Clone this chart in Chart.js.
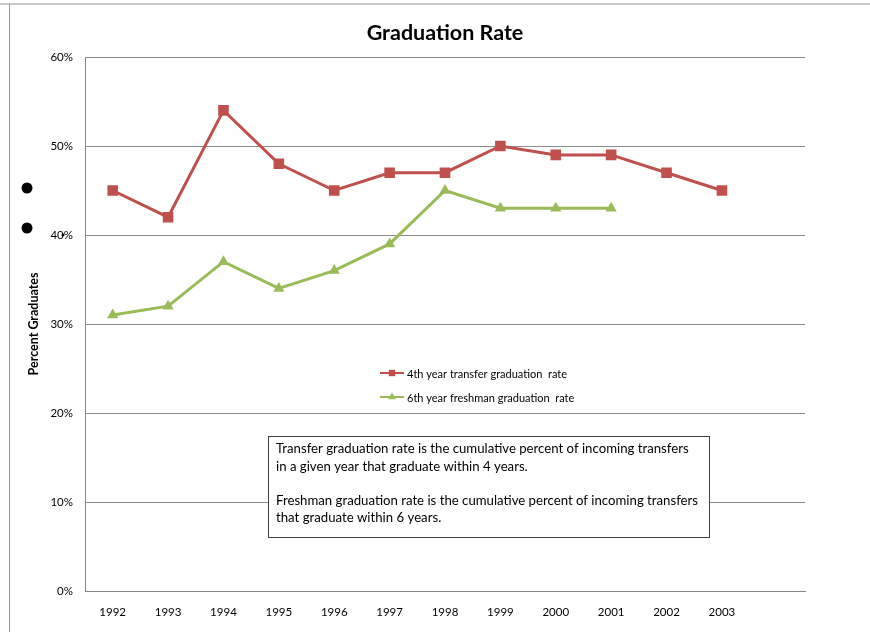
<!DOCTYPE html>
<html>
<head>
<meta charset="utf-8">
<title>Graduation Rate</title>
<script src="https://cdn.jsdelivr.net/npm/chart.js@4/dist/chart.umd.min.js"></script>
<style>
    html, body { margin: 0; padding: 0; background: #fff; }
    #wrap { width: 870px; height: 632px; }
</style>
</head>
<body>
<div id="wrap"><canvas id="gradChart" width="870" height="632"></canvas></div>
<script>
// Cohort years (last slot left empty, as in the original workbook)
const years = ['1992', '1993', '1994', '1995', '1996', '1997', '1998', '1999', '2000', '2001', '2002', '2003', ''];
// Percent graduating
const transferRate = [45, 42, 54, 48, 45, 47, 47, 50, 49, 49, 47, 45];
const freshmanRate = [31, 32, 37, 34, 36, 39, 45, 43, 43, 43, null, null];
const seriesNames = ['4th year transfer graduation  rate', '6th year freshman graduation  rate'];
const noteLines = [
    'Transfer graduation rate is the cumulative percent of incoming transfers',
    'in a given year that graduate within 4 years.',
    '',
    'Freshman graduation rate is the cumulative percent of incoming transfers',
    'that graduate within 6 years.'
];

const FONT = 'Lato, "Open Sans", sans-serif';
const RED = '#c0504d';
const GREEN = '#9bbb59';

// Page frame, title, in-plot legend, note box and stray bullets
const decorations = {
    id: 'decorations',
    beforeDraw(chart) {
        const ctx = chart.ctx;
        ctx.save();
        ctx.fillStyle = '#fff';
        ctx.fillRect(0, 0, chart.width, chart.height);
        ctx.strokeStyle = '#c8c8c8';
        ctx.lineWidth = 2;
        ctx.beginPath();
        ctx.moveTo(0, 4); ctx.lineTo(chart.width, 4);
        ctx.stroke();
        ctx.strokeStyle = '#9a9a9a';
        ctx.lineWidth = 1;
        ctx.beginPath();
        ctx.moveTo(9.5, 4); ctx.lineTo(9.5, chart.height);
        ctx.stroke();
        ctx.restore();
    },
    afterDraw(chart) {
        const ctx = chart.ctx;
        const area = chart.chartArea;
        ctx.save();

        // title
        ctx.fillStyle = '#000';
        ctx.font = 'bold 21.5px ' + FONT;
        ctx.textAlign = 'center';
        ctx.textBaseline = 'middle';
        ctx.fillText('Graduation Rate', (area.left + area.right) / 2, 33);

        // legend
        ctx.font = '11px ' + FONT;
        ctx.textAlign = 'left';
        chart.data.datasets.forEach((ds, i) => {
            const y = 373 + i * 24;
            ctx.strokeStyle = ds.borderColor;
            ctx.lineWidth = 2;
            ctx.beginPath();
            ctx.moveTo(380, y); ctx.lineTo(404, y);
            ctx.stroke();
            ctx.fillStyle = ds.backgroundColor;
            Chart.helpers.drawPoint(ctx, { pointStyle: ds.pointStyle, radius: 4.5, borderWidth: 0 }, 392, y);
            ctx.fillStyle = '#000';
            ctx.fillText(ds.label, 407, y + 1);
        });

        // note box
        const bx = 268.5, by = 436.5, bw = 441, bh = 101;
        ctx.fillStyle = '#fff';
        ctx.fillRect(bx, by, bw, bh);
        ctx.strokeStyle = '#404040';
        ctx.lineWidth = 1;
        ctx.strokeRect(bx, by, bw, bh);
        ctx.fillStyle = '#000';
        ctx.font = '13.2px ' + FONT;
        ctx.textBaseline = 'middle';
        noteLines.forEach((line, i) => {
            ctx.fillText(line, 276, 449 + i * 17.3);
        });

        // bullets left of the axis
        ctx.fillStyle = '#000';
        [188, 228].forEach(y => {
            ctx.beginPath();
            ctx.arc(27, y, 5.5, 0, Math.PI * 2);
            ctx.fill();
        });
        ctx.beginPath();
        ctx.arc(63, 235, 1.5, 0, Math.PI * 2);
        ctx.fill();

        ctx.restore();
    }
};

new Chart(document.getElementById('gradChart'), {
    type: 'line',
    data: {
        labels: years,
        datasets: [
            {
                label: seriesNames[0],
                data: transferRate,
                borderColor: RED,
                backgroundColor: RED,
                borderWidth: 3,
                pointStyle: 'rect',
                pointRadius: 7.5,
                pointBorderWidth: 0,
                tension: 0
            },
            {
                label: seriesNames[1],
                data: freshmanRate,
                borderColor: GREEN,
                backgroundColor: GREEN,
                borderWidth: 3,
                pointStyle: 'triangle',
                pointRadius: 6.5,
                pointBorderWidth: 0,
                tension: 0
            }
        ]
    },
    options: {
        responsive: false,
        animation: false,
        layout: { padding: { left: 22, right: 65, top: 57, bottom: 0 } },
        plugins: {
            legend: { display: false },
            title: { display: false },
            tooltip: { enabled: false }
        },
        scales: {
            x: {
                offset: true,
                grid: { display: false, drawTicks: false },
                border: { color: '#868686', width: 1 },
                ticks: {
                    padding: 14,
                    color: '#000',
                    maxRotation: 0,
                    autoSkip: false,
                    font: { family: FONT, size: 11.5 }
                },
                afterFit(scale) { scale.height = 41; }
            },
            y: {
                min: 0,
                max: 60,
                grid: { color: '#8c8c8c', lineWidth: 1, drawTicks: false },
                border: { color: '#868686', width: 1 },
                ticks: {
                    stepSize: 10,
                    padding: 12,
                    color: '#000',
                    font: { family: FONT, size: 11.5 },
                    callback: v => v + '%'
                },
                title: {
                    display: true,
                    text: 'Percent Graduates',
                    color: '#000',
                    font: { family: FONT, size: 12.5, weight: 'bold' },
                    padding: { top: 4, bottom: 0 }
                },
                afterFit(scale) { scale.width = 63; }
            }
        }
    },
    plugins: [decorations]
});
</script>
</body>
</html>
